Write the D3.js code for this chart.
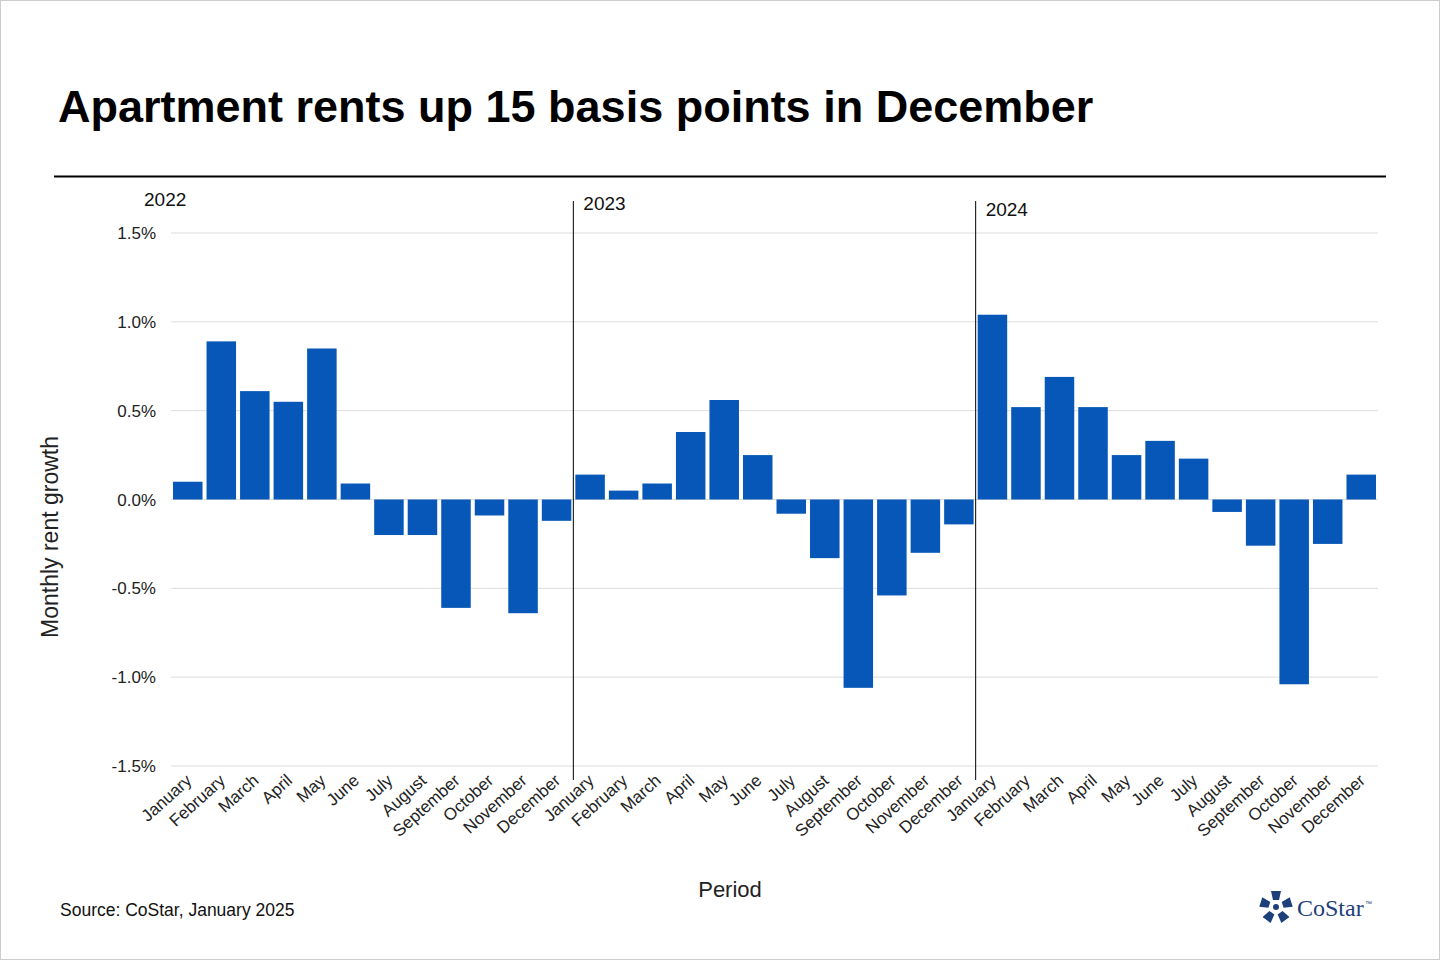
<!DOCTYPE html>
<html><head><meta charset="utf-8">
<script src="https://cdn.jsdelivr.net/npm/d3@7"></script>
<style>body{margin:0;background:#fff}svg{display:block;font-family:Arial,"Liberation Sans",sans-serif}</style>
</head><body><svg id="c" width="1440" height="960"></svg>
<script>
const months = ["January","February","March","April","May","June","July","August","September","October","November","December"];
const years = ["2022","2023","2024"];
const values2022 = [0.10,0.89,0.61,0.55,0.85,0.09,-0.20,-0.20,-0.61,-0.09,-0.64,-0.12];
const values2023 = [0.14,0.05,0.09,0.38,0.56,0.25,-0.08,-0.33,-1.06,-0.54,-0.30,-0.14];
const values2024 = [1.04,0.52,0.69,0.52,0.25,0.33,0.23,-0.07,-0.26,-1.04,-0.25,0.14];
const yTicks = [-1.5,-1.0,-0.5,0.0,0.5,1.0,1.5];

const data = [];
[values2022,values2023,values2024].forEach((vals,i)=>vals.forEach((v,j)=>data.push({key:years[i]+"-"+j,year:years[i],month:months[j],v})));

const svg = d3.select("#c");
svg.append("rect").attr("x",0.5).attr("y",0.5).attr("width",1439).attr("height",959).attr("fill","#fff").attr("stroke","#ccc");
svg.append("text").attr("x",58).attr("y",122).attr("font-size",45).attr("font-weight","bold").text("Apartment rents up 15 basis points in December");
svg.append("line").attr("x1",54).attr("x2",1386).attr("y1",176.5).attr("y2",176.5).attr("stroke","#000").attr("stroke-width",2);

const x = d3.scaleBand().domain(data.map(d=>d.key)).range([171,1378]).paddingInner(0.12).paddingOuter(0.06);
const y = d3.scaleLinear().domain([-1.5,1.5]).range([766,233]);

svg.append("g").selectAll("line").data(yTicks).join("line")
  .attr("x1",171).attr("x2",1378).attr("y1",d=>y(d)).attr("y2",d=>y(d)).attr("stroke","#ddd");
svg.append("g").selectAll("text").data(yTicks).join("text")
  .attr("x",156).attr("y",d=>y(d)+6).attr("text-anchor","end").attr("font-size",17).attr("fill","#222")
  .text(d=>d.toFixed(1)+"%");

svg.append("g").selectAll("rect").data(data).join("rect")
  .attr("x",d=>x(d.key)).attr("width",x.bandwidth())
  .attr("y",d=>y(Math.max(0,d.v))).attr("height",d=>Math.abs(y(d.v)-y(0)))
  .attr("fill","#0657b8");

svg.append("g").selectAll("text").data(data).join("text")
  .attr("transform",d=>`translate(${x(d.key)+x.bandwidth()/2+5},${782}) rotate(-42)`)
  .attr("text-anchor","end").attr("font-size",17).attr("fill","#222").text(d=>d.month);

const step = x.step();
years.forEach((yr,i)=>{
  const xs = x(yr+"-0") - (i===0?0:(step-x.bandwidth())/2);
  if(i>0) svg.append("line").attr("x1",xs).attr("x2",xs).attr("y1",201).attr("y2",780).attr("stroke","#000");
  svg.append("text").attr("x",i===0?144:xs+10).attr("y",[206,210,216][i]).attr("font-size",19).attr("fill","#111").text(yr);
});

svg.append("text").attr("transform","translate(58,537) rotate(-90)").attr("text-anchor","middle").attr("font-size",23).attr("fill","#222").text("Monthly rent growth");
svg.append("text").attr("x",730).attr("y",897).attr("text-anchor","middle").attr("font-size",22).attr("fill","#222").text("Period");
svg.append("text").attr("x",60).attr("y",916).attr("font-size",17.5).attr("fill","#111").text("Source: CoStar, January 2025");

const lg = svg.append("g").attr("transform","translate(1276,907)");
d3.range(5).forEach(i=>{
  lg.append("path").attr("d","M-5,-16 L5,-16 L3,-7 L-3,-7 Z").attr("fill","#1d3f7a").attr("transform",`rotate(${i*72})`);
});
lg.append("circle").attr("r",3).attr("fill","#1d3f7a");
svg.append("text").attr("x",1297).attr("y",916).attr("font-family","Liberation Serif,serif").attr("font-size",24).attr("fill","#1d3f7a").text("CoStar");
svg.append("text").attr("x",1365).attr("y",906).attr("font-size",7).attr("fill","#1d3f7a").text("™");
</script></body></html>
